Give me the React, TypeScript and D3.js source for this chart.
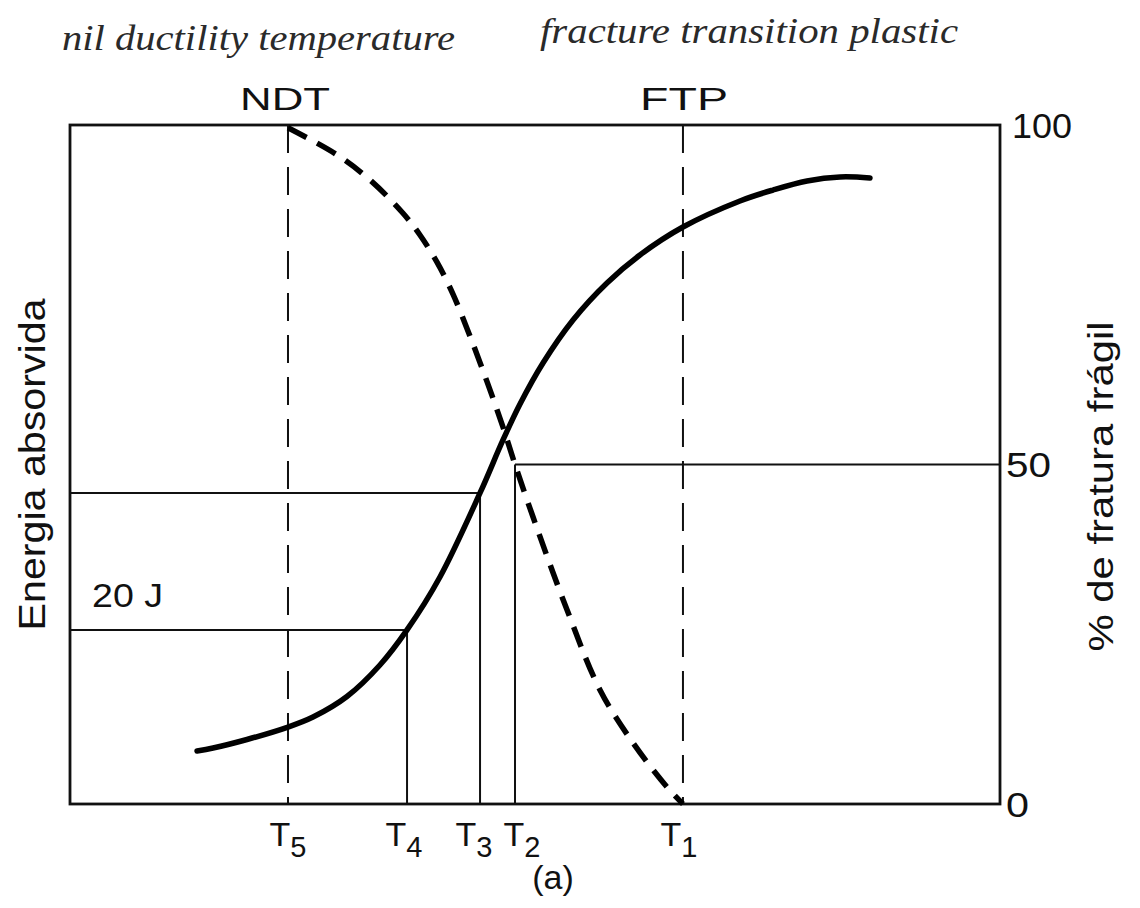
import React from "react";
import * as d3 from "d3";

// Charpy transition curves: absorbed energy (solid) and % brittle fracture (dashed)
// Temperature is on an arbitrary 0–100 scale (no numeric ticks are printed).

const energyTemp = [13.66, 15.38, 19.03, 23.44, 26.13, 29.78, 33.33, 36.24, 39.78, 44.09, 46.56, 48.39, 50.86, 54.09, 57.74, 61.29, 65.91, 72.04, 75.59, 79.25, 82.8, 86.02];
const energyJ = [6.09, 6.43, 7.41, 8.84, 9.99, 12.35, 15.97, 20.0, 26.08, 35.73, 41.82, 45.95, 50.66, 55.6, 59.85, 63.07, 66.28, 69.27, 70.53, 71.57, 72.03, 71.91];

const brittleTemp = [23.44, 28.71, 32.26, 35.81, 37.63, 39.46, 41.18, 43.01, 44.84, 46.56, 47.85, 49.78, 53.44, 56.99, 60.54, 64.19, 65.91];
const brittlePct = [99.6, 95.6, 91.9, 87.0, 83.8, 79.8, 75.1, 68.9, 62.2, 55.5, 50, 42.3, 28.6, 16.8, 9.0, 2.5, 0];

// Characteristic temperatures T1..T5
const tempNames = ["T5", "T4", "T3", "T2", "T1"];
const tempValues = [23.44, 36.24, 44.09, 47.85, 65.91];
const tempLabelShift = [0, -3, -6, 7, -4];

// Reference levels
const energy20J = 20;
const energyT3 = 35.73;
const pctTicks = [0, 50, 100];
const pctTickWidths = [23, 45, 60];

const W = 1140;
const H = 908;
const left = 70;
const right = 1000;
const top = 125;
const bottom = 804;

const sans = "'Liberation Sans', Arial, Helvetica, sans-serif";
const serif = "'Liberation Serif', 'Times New Roman', Times, serif";

export default function App() {
  const x = d3.scaleLinear().domain([0, 100]).range([left, right]);
  const yPct = d3.scaleLinear().domain([0, 100]).range([bottom, top]);
  const yE = d3.scaleLinear().domain([0, 78]).range([bottom, top]);

  const energyLine = d3
    .line<number>()
    .x((_, i) => x(energyTemp[i]))
    .y((d) => yE(d))
    .curve(d3.curveCatmullRom.alpha(0.5));

  const brittleLine = d3
    .line<number>()
    .x((_, i) => x(brittleTemp[i]))
    .y((d) => yPct(d))
    .curve(d3.curveCatmullRom.alpha(0.5));

  const [tT5, tT4, tT3, tT2, tT1] = tempValues;

  return (
    <svg
      width={W}
      height={H}
      viewBox={`0 0 ${W} ${H}`}
      style={{ position: "absolute", left: 0, top: 0, background: "#fff" }}
    >
      {/* headings */}
      <text x={62} y={50} fontFamily={serif} fontStyle="italic" fontSize={36} fill="#2a2a2a"
        textLength={393} lengthAdjust="spacingAndGlyphs">
        nil ductility temperature
      </text>
      <text x={540} y={43} fontFamily={serif} fontStyle="italic" fontSize={36} fill="#2a2a2a"
        textLength={418} lengthAdjust="spacingAndGlyphs">
        fracture transition plastic
      </text>
      <text x={240} y={110} fontFamily={sans} fontSize={32} fill="#111"
        textLength={90} lengthAdjust="spacingAndGlyphs">NDT</text>
      <text x={640} y={110} fontFamily={sans} fontSize={32} fill="#111"
        textLength={88} lengthAdjust="spacingAndGlyphs">FTP</text>

      {/* frame */}
      <rect x={left} y={top} width={right - left} height={bottom - top} fill="none" stroke="#111" strokeWidth={2.8} />

      {/* right axis labels */}
      {pctTicks.map((p, i) => (
        <text key={p} x={right + (p === 100 ? 12 : 6)} y={yPct(p)} dy="0.36em" fontFamily={sans} fontSize={35} fill="#111"
          textLength={pctTickWidths[i]} lengthAdjust="spacingAndGlyphs">
          {p}
        </text>
      ))}

      {/* axis titles */}
      <text transform={`translate(45, ${(top + bottom) / 2}) rotate(-90)`} textAnchor="middle"
        fontFamily={sans} fontSize={37} fill="#111" textLength={332} lengthAdjust="spacingAndGlyphs">
        Energia absorvida
      </text>
      <text transform={`translate(1113, ${(top + bottom) / 2 + 22}) rotate(-90)`} textAnchor="middle"
        fontFamily={sans} fontSize={35} fill="#111" textLength={330} lengthAdjust="spacingAndGlyphs">
        % de fratura frágil
      </text>

      {/* reference lines */}
      <g stroke="#111" strokeWidth={2} fill="none">
        <line x1={x(tT5)} x2={x(tT5)} y1={top} y2={bottom} strokeDasharray="28 14" />
        <line x1={x(tT1)} x2={x(tT1)} y1={top} y2={bottom} strokeDasharray="28 14" />
        <line x1={left} x2={x(tT4)} y1={yE(energy20J)} y2={yE(energy20J)} />
        <line x1={x(tT4)} x2={x(tT4)} y1={yE(energy20J)} y2={bottom} />
        <line x1={left} x2={x(tT3)} y1={yE(energyT3)} y2={yE(energyT3)} />
        <line x1={x(tT3)} x2={x(tT3)} y1={yE(energyT3)} y2={bottom} />
        <line x1={x(tT2)} x2={right} y1={yPct(50)} y2={yPct(50)} />
        <line x1={x(tT2)} x2={x(tT2)} y1={yPct(50)} y2={bottom} />
      </g>

      {/* curves */}
      <path d={energyLine(energyJ) ?? ""} fill="none" stroke="#000" strokeWidth={5.5} strokeLinecap="round" />
      <path d={brittleLine(brittlePct) ?? ""} fill="none" stroke="#000" strokeWidth={5.5} strokeDasharray="21 12" />

      <text x={92} y={607} fontFamily={sans} fontSize={34} fill="#111"
        textLength={71} lengthAdjust="spacingAndGlyphs">20 J</text>

      {/* temperature labels */}
      {tempNames.map((n, i) => (
        <text key={n} x={x(tempValues[i]) + tempLabelShift[i]} y={846} textAnchor="middle"
          fontFamily={sans} fontSize={34} fill="#111">
          {n[0]}
          <tspan fontSize={29} dy={11}>{n.slice(1)}</tspan>
        </text>
      ))}
      <text x={553} y={889} textAnchor="middle" fontFamily={sans} fontSize={34} fill="#111">(a)</text>
    </svg>
  );
}
